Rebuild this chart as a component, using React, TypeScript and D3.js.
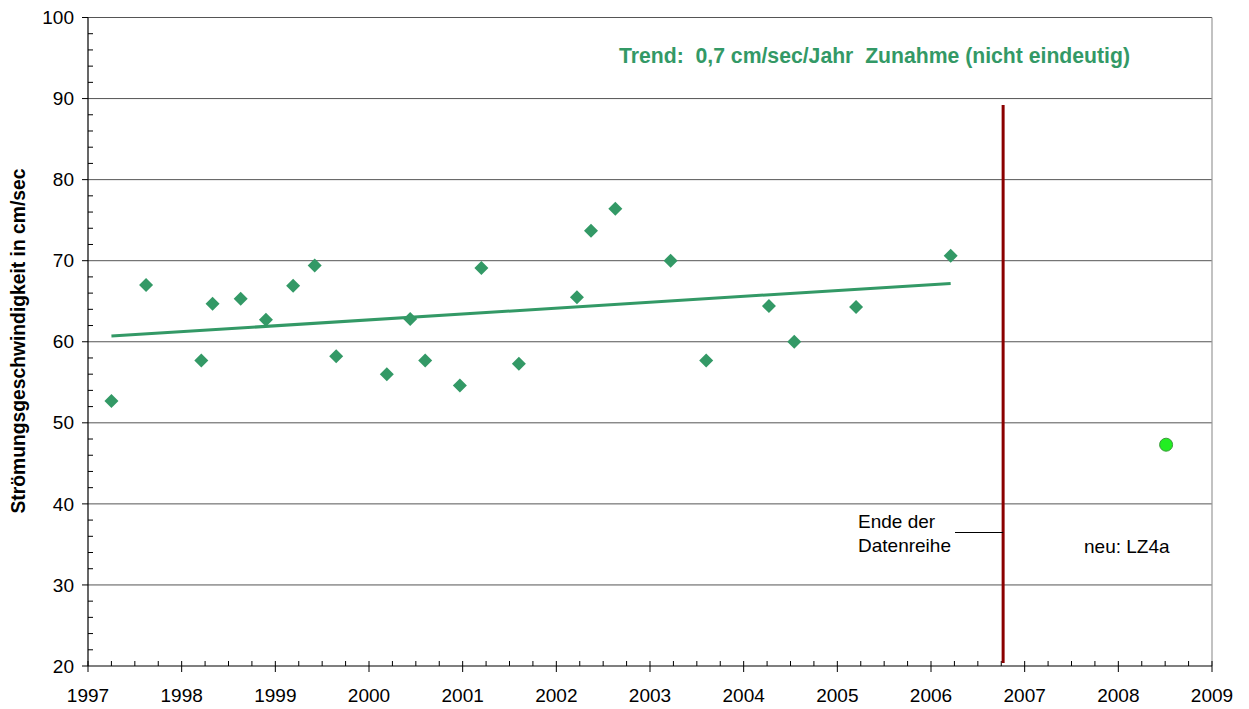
import React from 'react';
import * as d3 from 'd3';

// Messwerte (Jahr als Dezimalzahl, Strömungsgeschwindigkeit cm/sec)
const years = [
  1997.25, 1997.62, 1998.21, 1998.33, 1998.63, 1998.9, 1999.19, 1999.42, 1999.65,
  2000.19, 2000.44, 2000.6, 2000.97, 2001.2, 2001.6, 2002.22, 2002.37, 2002.63,
  2003.22, 2003.6, 2004.27, 2004.54, 2005.2, 2006.21,
];
const speeds = [
  52.7, 67.0, 57.7, 64.7, 65.3, 62.7, 66.9, 69.4, 58.2,
  56.0, 62.8, 57.7, 54.6, 69.1, 57.3, 65.5, 73.7, 76.4,
  70.0, 57.7, 64.4, 60.0, 64.3, 70.6,
];
// Trendlinie: Werte am ersten und letzten Messzeitpunkt
const trendValues = [60.7, 67.2];
// neuer Messpunkt LZ4a
const newPoint = { year: 2008.51, value: 47.3 };
// Ende der Datenreihe
const endYear = 2006.77;
const endTop = 89.2;

const xTicks = d3.range(1997, 2010, 1);
const yTicks = d3.range(20, 101, 10);

const W = 1249;
const H = 709;
const green = '#339966';
const font = '"Liberation Sans", Arial, sans-serif';

export default function App() {
  const x = d3.scaleLinear().domain([1997, 2009]).range([88, 1212]);
  const y = d3.scaleLinear().domain([20, 100]).range([666, 17.5]);

  const xMinor = d3.range(1997, 2009.001, 0.25).filter((v) => Math.abs(v - Math.round(v)) > 0.01);
  const yMinor = d3.range(20, 100.001, 2).filter((v) => v % 10 !== 0);

  const diamond = d3.symbol().type(d3.symbolDiamond2).size(125)();
  const trendLine = d3.line<number>()
    .x((d, i) => x(i === 0 ? years[0] : years[years.length - 1]))
    .y((d) => y(d))(trendValues);

  return (
    <svg width={W} height={H} style={{ position: 'absolute', left: 0, top: 0, background: '#fff' }} fontFamily={font}>
      {/* Gitterlinien */}
      {yTicks.filter((t) => t > 20).map((t) => (
        <line key={'g' + t} x1={x(1997)} x2={x(2009)} y1={y(t)} y2={y(t)} stroke="#555" strokeWidth={1} />
      ))}
      <line x1={x(2009)} x2={x(2009)} y1={y(100)} y2={y(20)} stroke="#999" strokeWidth={1.2} />

      {/* Y-Achse */}
      <line x1={x(1997)} x2={x(1997)} y1={y(100)} y2={y(20)} stroke="#000" strokeWidth={1.2} />
      {yTicks.map((t) => (
        <g key={'y' + t}>
          <line x1={x(1997) - 6} x2={x(1997)} y1={y(t)} y2={y(t)} stroke="#000" />
          <text x={x(1997) - 14} y={y(t)} dy="0.35em" textAnchor="end" fontSize={19}>{t}</text>
        </g>
      ))}
      {yMinor.map((t) => (
        <line key={'ym' + t} x1={x(1997)} x2={x(1997) + 5} y1={y(t)} y2={y(t)} stroke="#000" />
      ))}

      {/* X-Achse */}
      <line x1={x(1997)} x2={x(2009)} y1={y(20)} y2={y(20)} stroke="#000" strokeWidth={1.2} />
      {xTicks.map((t) => (
        <g key={'x' + t}>
          <line x1={x(t)} x2={x(t)} y1={y(20) - 5} y2={y(20) + 6} stroke="#000" />
          <text x={x(t)} y={702} textAnchor="middle" fontSize={19}>{t}</text>
        </g>
      ))}
      {xMinor.map((t) => (
        <line key={'xm' + t} x1={x(t)} x2={x(t)} y1={y(20) - 5} y2={y(20)} stroke="#000" />
      ))}

      {/* Achsentitel */}
      <text transform={`translate(25,${341}) rotate(-90)`} textAnchor="middle" fontSize={19.3} fontWeight="bold">
        Strömungsgeschwindigkeit in cm/sec
      </text>

      {/* Trend */}
      <path d={trendLine ?? ''} fill="none" stroke={green} strokeWidth={3} />
      {years.map((yr, i) => (
        <path key={'p' + i} d={diamond ?? ''} transform={`translate(${x(yr)},${y(speeds[i])})`} fill={green} />
      ))}
      <text x={619} y={62.5} fontSize={21.2} fontWeight="bold" fill={green} style={{ whiteSpace: 'pre' }}>
        {'Trend:  0,7 cm/sec/Jahr  Zunahme (nicht eindeutig)'}
      </text>

      {/* Ende der Datenreihe */}
      <line x1={x(endYear)} x2={x(endYear)} y1={y(endTop)} y2={y(20) - 3} stroke="#8b0000" strokeWidth={3} />
      <line x1={955} x2={x(endYear)} y1={532.5} y2={532.5} stroke="#000" strokeWidth={1} />
      <text x={858} y={528} fontSize={19}>Ende der</text>
      <text x={858} y={552} fontSize={19}>Datenreihe</text>

      {/* neuer Punkt */}
      <circle cx={x(newPoint.year)} cy={y(newPoint.value)} r={6.5} fill="#22ee22" stroke="#3c9a3c" strokeWidth={1} />
      <text x={1084} y={553} fontSize={19}>neu: LZ4a</text>
    </svg>
  );
}
